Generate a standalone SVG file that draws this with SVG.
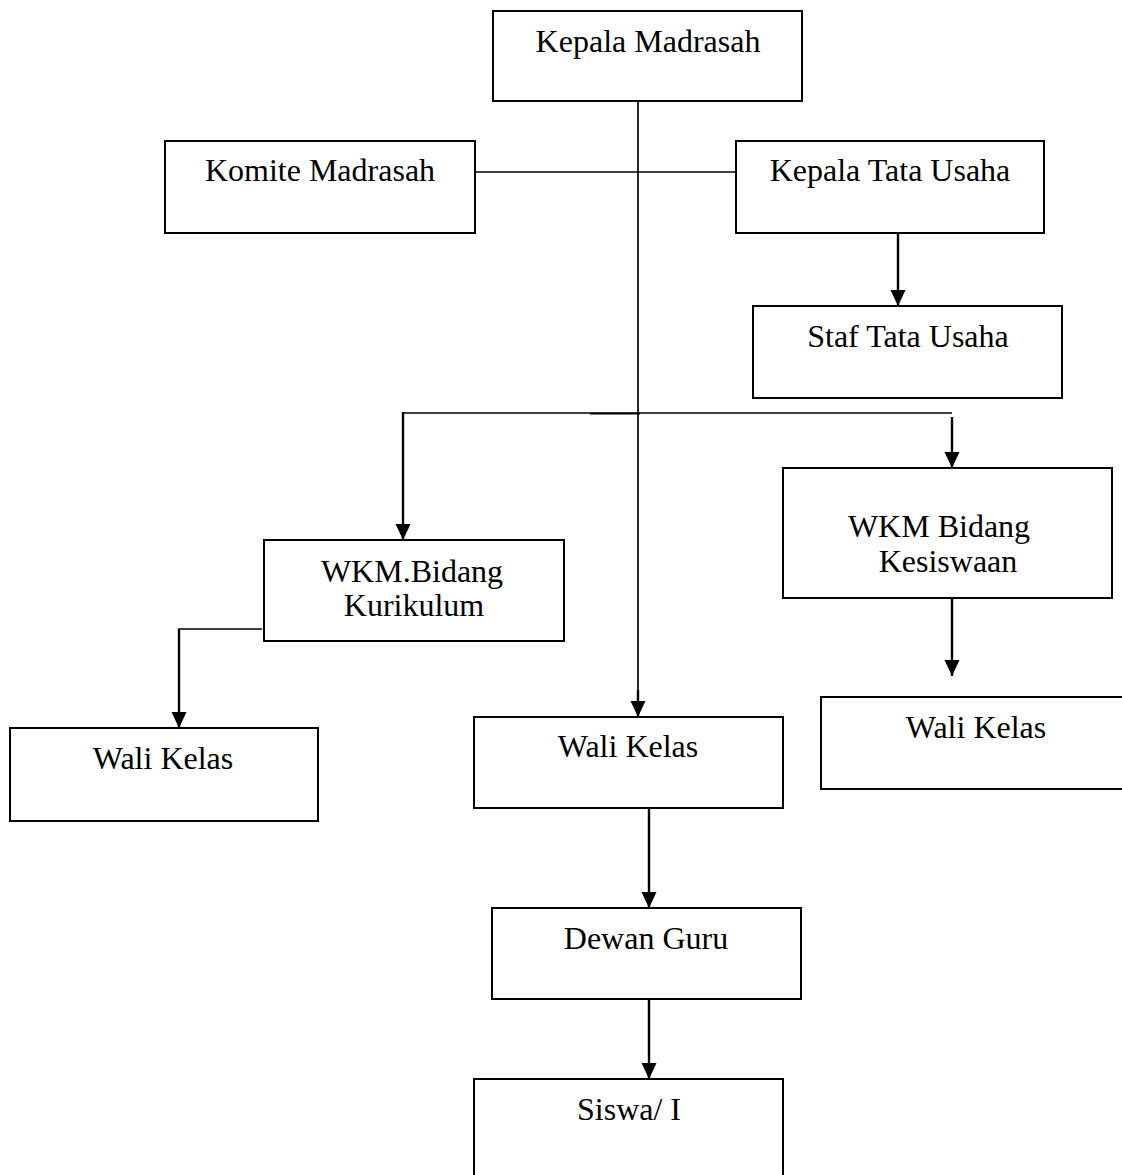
<svg xmlns="http://www.w3.org/2000/svg" width="1122" height="1175" viewBox="0 0 1122 1175">
<style>
.box{fill:#fff;stroke:#000;stroke-width:2}
.t{font-family:"Liberation Serif","Times New Roman",serif;font-size:32px;fill:#000;text-anchor:middle}
.ln{fill:none;stroke:#000;stroke-width:1.7}
.ar{fill:none;stroke:#000;stroke-width:2.4}
</style>
<defs>
<marker id="ah" markerUnits="userSpaceOnUse" markerWidth="16" markerHeight="16" refX="16" refY="7.5" orient="auto" viewBox="0 0 16 15">
<path d="M0,0 L16,7.5 L0,15 Z" fill="#000"/>
</marker>
</defs>
<rect width="1122" height="1175" fill="#fff"/>
<g id="connectors">
<line class="ln" x1="638" y1="101" x2="638" y2="700"/>
<line class="ar" x1="638" y1="690" x2="638" y2="717" marker-end="url(#ah)"/>
<line class="ln" x1="475" y1="172" x2="736" y2="172"/>
<line class="ar" x1="898" y1="233" x2="898" y2="306" marker-end="url(#ah)"/>
<line class="ln" x1="403" y1="413" x2="952" y2="413"/>
<line class="ln" x1="590" y1="413.6" x2="640" y2="413.6"/>
<line class="ar" x1="403" y1="412" x2="403" y2="540" marker-end="url(#ah)"/>
<line class="ar" x1="952" y1="417" x2="952" y2="468" marker-end="url(#ah)"/>
<line class="ar" x1="952" y1="598" x2="952" y2="676" marker-end="url(#ah)"/>
<polyline class="ln" points="262,629 179,629 179,640"/>
<line class="ar" x1="179" y1="629" x2="179" y2="728" marker-end="url(#ah)"/>
<line class="ar" x1="649" y1="808" x2="649" y2="908" marker-end="url(#ah)"/>
<line class="ar" x1="649" y1="999" x2="649" y2="1079" marker-end="url(#ah)"/>
</g>
<g id="kepala-madrasah"><rect class="box" x="493" y="11" width="309" height="90"/><text class="t" x="648" y="52">Kepala Madrasah</text></g>
<g id="komite-madrasah"><rect class="box" x="165" y="141" width="310" height="92"/><text class="t" x="320" y="181">Komite Madrasah</text></g>
<g id="kepala-tata-usaha"><rect class="box" x="736" y="141" width="308" height="92"/><text class="t" x="890" y="181">Kepala Tata Usaha</text></g>
<g id="staf-tata-usaha"><rect class="box" x="753" y="306" width="309" height="92"/><text class="t" x="908" y="347">Staf Tata Usaha</text></g>
<g id="wkm-kurikulum"><rect class="box" x="264" y="540" width="300" height="101"/><text class="t" x="412" y="582">WKM.Bidang</text><text class="t" x="414" y="616">Kurikulum</text></g>
<g id="wkm-kesiswaan"><rect class="box" x="783" y="468" width="329" height="130"/><text class="t" x="939" y="537">WKM Bidang</text><text class="t" x="948" y="572">Kesiswaan</text></g>
<g id="wali-kelas-kiri"><rect class="box" x="10" y="728" width="308" height="93"/><text class="t" x="163" y="769">Wali Kelas</text></g>
<g id="wali-kelas-tengah"><rect class="box" x="474" y="717" width="309" height="91"/><text class="t" x="628" y="757">Wali Kelas</text></g>
<g id="wali-kelas-kanan"><rect class="box" x="821" y="697" width="312" height="92"/><text class="t" x="976" y="738">Wali Kelas</text></g>
<g id="dewan-guru"><rect class="box" x="492" y="908" width="309" height="91"/><text class="t" x="646" y="949">Dewan Guru</text></g>
<g id="siswa"><rect class="box" x="474" y="1079" width="309" height="110"/><text class="t" x="629" y="1120">Siswa/ I</text></g>
</svg>
